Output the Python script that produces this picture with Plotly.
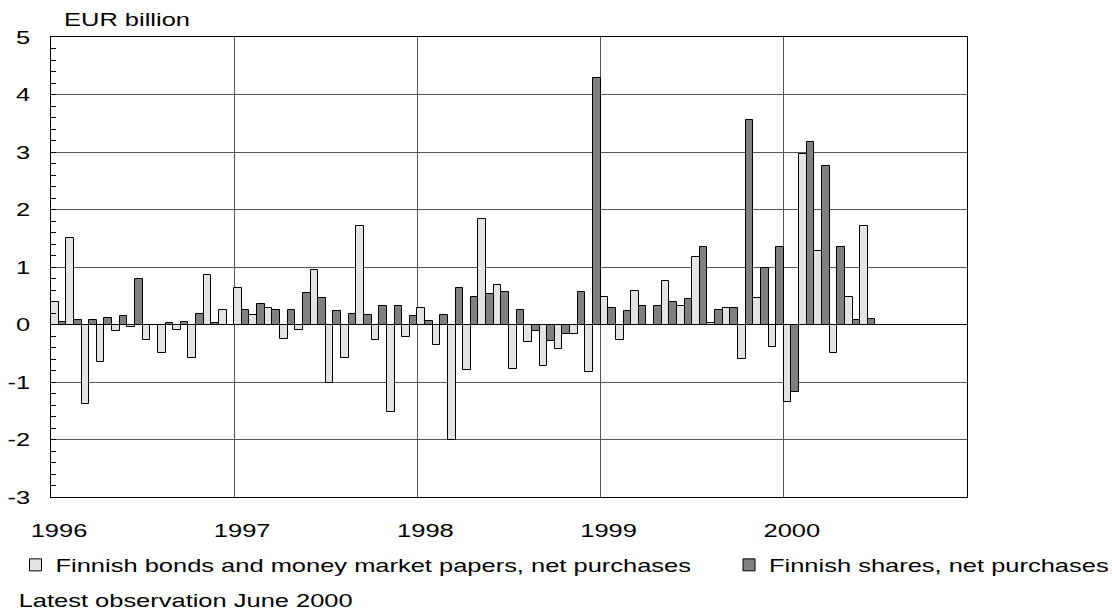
import plotly.graph_objects as go

years = ["1996", "1997", "1998", "1999", "2000"]
months = [f"{y}-{m:02d}" for y in range(1996, 2001) for m in range(1, 13)][:54]

bonds = [
    0.39, 1.50, -1.39, -0.65, -0.12, -0.05, -0.27, -0.49, -0.10, -0.58, 0.86, 0.25,
    0.63, 0.16, 0.29, -0.25, -0.10, 0.94, -1.01, -0.58, 1.71, -0.27, -1.52, -0.21,
    0.29, -0.35, -2.00, -0.79, 1.83, 0.69, -0.78, -0.31, -0.73, -0.43, -0.17, -0.82,
    0.48, -0.27, 0.58, 0.00, 0.75, 0.32, 1.17, 0.02, 0.29, -0.60, 0.46, -0.39,
    -1.35, 2.97, 1.28, -0.49, 0.48, 1.71,
]
shares = [
    0.05, 0.08, 0.08, 0.12, 0.15, 0.79, 0.00, 0.02, 0.05, 0.18, 0.02, 0.00,
    0.26, 0.35, 0.25, 0.26, 0.55, 0.46, 0.23, 0.19, 0.16, 0.32, 0.32, 0.15,
    0.06, 0.16, 0.63, 0.48, 0.53, 0.56, 0.25, -0.12, -0.28, -0.17, 0.56, 4.28,
    0.29, 0.23, 0.32, 0.33, 0.39, 0.45, 1.34, 0.25, 0.29, 3.56, 0.99, 1.34,
    -1.18, 3.18, 2.75, 1.34, 0.08, 0.09,
]
y_ticks = [-3, -2, -1, 0, 1, 2, 3, 4, 5]
y_ticktext = ["-3", "-2", "-1", "0", "1", "2", "3", "4", "5"]

series_names = ["Finnish bonds and money market papers, net purchases",
                "Finnish shares, net purchases"]

FONT = "Liberation Sans, Arial, sans-serif"
FS = 19

# plot area in pixels
L, T, W, H = 51, 37, 916, 460


def px_x(p):
    return (p - L) / W


def px_y(p):
    return (T + H - p) / H


x = list(range(len(months)))

fig = go.Figure()
fig.add_trace(go.Bar(x=x, y=bonds, name=series_names[0], customdata=months, legend="legend",
                     marker=dict(color="#e3e3e3", line=dict(color="#000000", width=1))))
fig.add_trace(go.Bar(x=x, y=shares, name=series_names[1], customdata=months, legend="legend2",
                     marker=dict(color="#808080", line=dict(color="#000000", width=1))))

legend_common = dict(orientation="h", yanchor="middle", xanchor="left", itemwidth=30,
                     font=dict(family=FONT, size=FS, color="black"),
                     bgcolor="rgba(0,0,0,0)", borderwidth=0)

fig.update_layout(
    width=1112, height=612, autosize=False,
    margin=dict(l=L, r=1112 - L - W, t=T, b=612 - T - H, pad=0, autoexpand=False),
    paper_bgcolor="white", plot_bgcolor="white",
    barmode="group", bargap=0, bargroupgap=0,
    font=dict(family=FONT, size=FS, color="black"),
    showlegend=True,
    legend=dict(x=px_x(15.5), y=px_y(565), **legend_common),
    legend2=dict(x=px_x(729), y=px_y(565), **legend_common),
    xaxis=dict(range=[-0.5, 59.5], tickmode="array",
               tickvals=[-0.5 + 12 * i for i in range(len(years))], ticktext=years,
               showgrid=True, gridcolor="#555555", gridwidth=1,
               ticks="", showline=True, mirror=True, linecolor="black", linewidth=1,
               zeroline=False, ticklabelshift=8, ticklabelstandoff=16,
               tickfont=dict(family=FONT, size=FS, color="black")),
    yaxis=dict(range=[-3, 5], tickmode="array", tickvals=y_ticks, ticktext=y_ticktext,
               showgrid=True, gridcolor="#555555", gridwidth=1,
               ticks="inside", ticklen=5, tickcolor="black",
               minor=dict(dtick=0.2, ticks="inside", ticklen=5, tickcolor="black", showgrid=False),
               showline=True, mirror=True, linecolor="black", linewidth=1,
               zeroline=True, zerolinecolor="black", zerolinewidth=1,
               ticklabelstandoff=16,
               tickfont=dict(family=FONT, size=FS, color="black")),
    annotations=[
        dict(text="EUR billion", xref="paper", yref="paper",
             x=px_x(127), y=px_y(19.5), xanchor="center", yanchor="middle",
             showarrow=False, font=dict(family=FONT, size=FS, color="black")),
        dict(text="Latest observation June 2000", xref="paper", yref="paper",
             x=px_x(185), y=px_y(600), xanchor="center", yanchor="middle",
             showarrow=False, font=dict(family=FONT, size=FS, color="black")),
    ],
)

post = """
document.body.style.margin = '0';
(function(){
  var gd = document.getElementById('{plot_id}');
  if(!gd) return;
  gd.querySelectorAll('.infolayer [clip-path]').forEach(function(e){
    e.removeAttribute('clip-path');
  });
  gd.querySelectorAll('svg text').forEach(function(t){
    if(t.getAttribute('data-stretched')) return;
    var w = t.getComputedTextLength();
    if(w > 0){
      t.setAttribute('textLength', (w * 1.34).toFixed(2));
      t.setAttribute('lengthAdjust', 'spacingAndGlyphs');
      t.setAttribute('data-stretched', '1');
    }
  });
})();
"""

fig.write_html("out.html", post_script=post, config={"displayModeBar": False})
